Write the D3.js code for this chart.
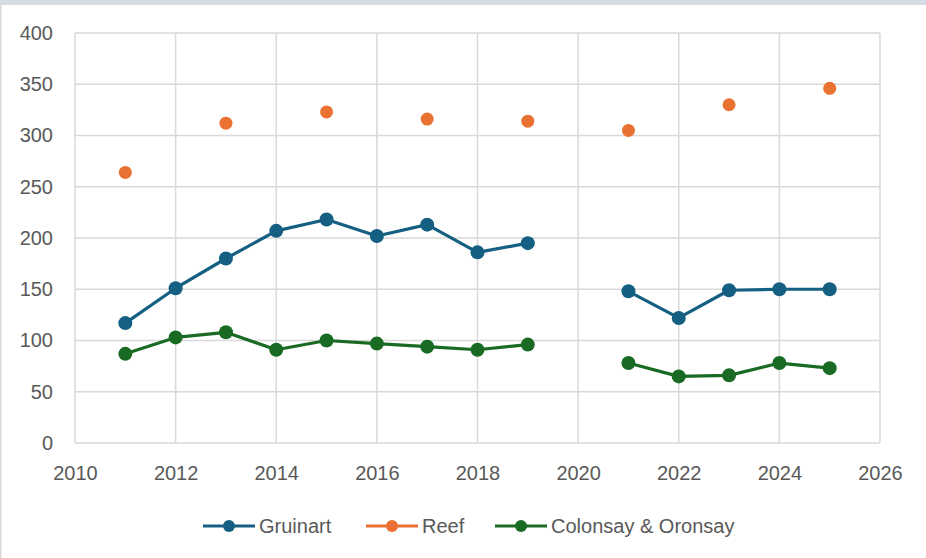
<!DOCTYPE html>
<html>
<head>
<meta charset="utf-8">
<script src="https://cdn.jsdelivr.net/npm/d3@7"></script>
<style>
  html, body { margin: 0; padding: 0; background: #ffffff; }
  svg { display: block; }
  text { font-family: "Liberation Sans", Arial, sans-serif; fill: #595959; }
</style>
</head>
<body>
<svg id="chart" width="926" height="558"></svg>
<script>
// ---- data ----
const years = [2011, 2012, 2013, 2014, 2015, 2016, 2017, 2018, 2019, 2020, 2021, 2022, 2023, 2024, 2025];
const gruinart = [117, 151, 180, 207, 218, 202, 213, 186, 195, null, 148, 122, 149, 150, 150];
const reef     = [264, null, 312, null, 323, null, 316, null, 314, null, 305, null, 330, null, 346];
const colonsay = [87, 103, 108, 91, 100, 97, 94, 91, 96, null, 78, 65, 66, 78, 73];
const seriesNames = ["Gruinart", "Reef", "Colonsay & Oronsay"];
const seriesColors = ["#156082", "#E97132", "#196B24"];
const xTicks = [2010, 2012, 2014, 2016, 2018, 2020, 2022, 2024, 2026];
const yTicks = [0, 50, 100, 150, 200, 250, 300, 350, 400];

const svg = d3.select("#chart");
const W = 926, H = 558;

// frame
svg.append("rect").attr("x", 0).attr("y", 0).attr("width", W).attr("height", H).attr("fill", "#ffffff");
svg.append("rect").attr("x", 0).attr("y", 0).attr("width", W).attr("height", 5).attr("fill", "#d6dce4");
svg.append("rect").attr("x", 0).attr("y", 0).attr("width", 1.5).attr("height", H).attr("fill", "#d9d9d9");

const x = d3.scaleLinear().domain([2010, 2026]).range([75, 880]);
const y = d3.scaleLinear().domain([0, 400]).range([443, 33]);

// grid
const grid = svg.append("g");
grid.selectAll("line.h").data(yTicks).join("line")
  .attr("x1", x(2010)).attr("x2", x(2026))
  .attr("y1", d => y(d)).attr("y2", d => y(d))
  .attr("stroke", "#d9d9d9").attr("stroke-width", 1.5);
grid.selectAll("line.v").data(xTicks).join("line")
  .attr("x1", d => x(d)).attr("x2", d => x(d))
  .attr("y1", y(0)).attr("y2", y(400))
  .attr("stroke", "#d9d9d9").attr("stroke-width", 1.5);

// axes
const yAxis = svg.append("g").attr("transform", `translate(${x(2010)},0)`)
  .call(d3.axisLeft(y).tickValues(yTicks).tickSize(0).tickPadding(22));
yAxis.select(".domain").remove();
yAxis.selectAll("text").style("font-size", "20px").attr("fill", "#595959");

const xAxis = svg.append("g").attr("transform", `translate(0,${y(0)})`)
  .call(d3.axisBottom(x).tickValues(xTicks).tickFormat(d3.format("d")).tickSize(0).tickPadding(23));
xAxis.select(".domain").remove();
xAxis.selectAll("text").style("font-size", "20px").attr("fill", "#595959");

// series
const allSeries = [gruinart, reef, colonsay];
const radii = [7, 6.5, 7];
const line = d3.line()
  .defined(d => d.v !== null)
  .x(d => x(d.year)).y(d => y(d.v));

allSeries.forEach((vals, i) => {
  const pts = years.map((yr, j) => ({ year: yr, v: vals[j] }));
  const g = svg.append("g");
  g.append("path").datum(pts)
    .attr("d", line)
    .attr("fill", "none")
    .attr("stroke", seriesColors[i])
    .attr("stroke-width", 3.2)
    .attr("stroke-linejoin", "round");
  g.selectAll("circle").data(pts.filter(d => d.v !== null)).join("circle")
    .attr("cx", d => x(d.year)).attr("cy", d => y(d.v))
    .attr("r", radii[i])
    .attr("fill", seriesColors[i]);
});

// legend
const legendX = [203, 366, 495];
const legendY = 526;
const leg = svg.append("g");
seriesNames.forEach((name, i) => {
  const lx = legendX[i];
  leg.append("line").attr("x1", lx).attr("x2", lx + 52)
    .attr("y1", legendY).attr("y2", legendY)
    .attr("stroke", seriesColors[i]).attr("stroke-width", 3.2);
  leg.append("circle").attr("cx", lx + 26).attr("cy", legendY).attr("r", 6)
    .attr("fill", seriesColors[i]);
  leg.append("text").attr("x", lx + 56).attr("y", legendY)
    .attr("dy", "0.35em").style("font-size", "20px").text(name);
});
</script>
</body>
</html>
